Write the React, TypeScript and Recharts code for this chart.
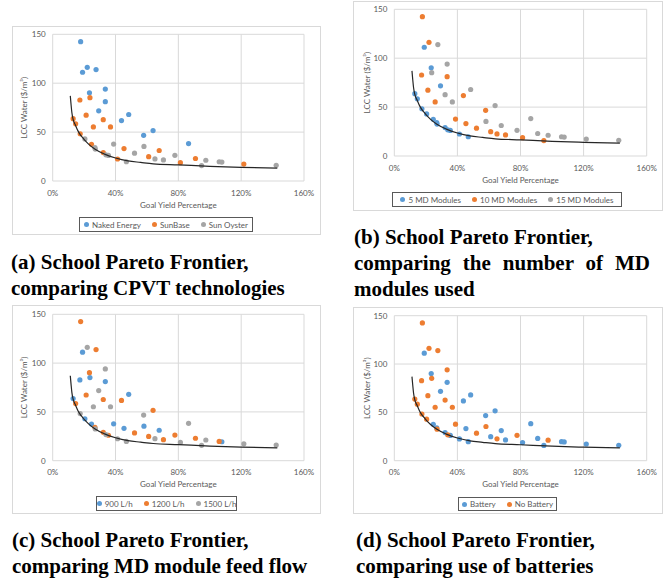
import React from 'react';
import { ScatterChart, Scatter, XAxis, YAxis, CartesianGrid, Label } from 'recharts';

// every design point (x = goal yield %, y = LCC water $/m3)
const goalYield = [
  17.8, 19.0, 22.0, 27.6, 23.4, 33.5, 33.5, 29.3, 43.8, 48.4, 57.9, 63.9, 86.5,
  17.3, 23.7, 13.0, 14.6, 21.3, 32.2, 25.9, 36.8, 17.5, 24.7, 32.2, 41.3, 45.4, 61.1, 67.8, 81.3, 90.9, 121.7,
  20.5, 26.9, 27.1, 38.8, 35.5, 33.9, 46.9, 52.1, 58.1, 65.1, 70.5, 77.8, 94.8, 97.5, 106.0, 107.7, 142.3,
];
const lccWater = [
  142.5, 111.2, 116.2, 113.9, 90.2, 94.0, 81.1, 71.8, 61.8, 68.0, 46.7, 51.6, 38.3,
  82.8, 85.2, 63.7, 58.5, 67.3, 62.7, 55.3, 55.3, 48.3, 37.6, 29.1, 22.5, 33.2, 24.9, 31.2, 18.7, 23.0, 17.3,
  43.0, 34.1, 32.6, 37.8, 26.1, 26.8, 19.7, 28.5, 35.4, 22.6, 21.5, 26.3, 15.8, 21.2, 19.7, 19.4, 16.0,
];
const cpvtTech = [
  'NE', 'NE', 'NE', 'NE', 'NE', 'NE', 'NE', 'NE', 'NE', 'NE', 'NE', 'NE', 'NE',
  'SB', 'SB', 'SB', 'SB', 'SB', 'SB', 'SB', 'SB', 'SB', 'SB', 'SB', 'SB', 'SB', 'SB', 'SB', 'SB', 'SB', 'SB',
  'SO', 'SO', 'SO', 'SO', 'SO', 'SO', 'SO', 'SO', 'SO', 'SO', 'SO', 'SO', 'SO', 'SO', 'SO', 'SO', 'SO',
];
const mdModules = [
  10, 5, 10, 15, 5, 15, 10, 5, 10, 15, 10, 15, 15,
  10, 15, 5, 5, 10, 15, 10, 15, 5, 5, 5, 5, 10, 10, 15, 10, 15, 15,
  5, 5, 5, 10, 5, 5, 5, 10, 15, 10, 10, 15, 10, 15, 15, 15, 15,
];
const feedFlow = [
  1200, 900, 1500, 1200, 1200, 1500, 900, 1500, 1200, 900, 1500, 1200, 1500,
  900, 900, 900, 1200, 1200, 1200, 1500, 1500, 1500, 900, 1200, 1500, 900, 1200, 900, 1500, 1200, 1500,
  900, 1200, 1500, 900, 1200, 1500, 1500, 1200, 900, 1500, 1200, 1200, 1500, 1500, 1200, 900, 1500,
];
const hasBattery = [
  0, 1, 0, 0, 1, 0, 1, 1, 1, 1, 1, 1, 1,
  0, 0, 0, 0, 0, 0, 0, 0, 0, 1, 1, 1, 1, 1, 1, 1, 1, 1,
  0, 1, 0, 0, 1, 0, 1, 0, 0, 0, 1, 0, 1, 0, 1, 1, 1,
];

// pareto frontier curve
const frontierYield = [11.2, 11.7, 12.2, 13.0, 14.5, 16.0, 17.5, 19.0, 20.5, 23.0, 27.0, 33.0, 40.0, 48.0, 56.0, 64.0, 80.0, 100.0, 120.0, 143.0];
const frontierLcc = [87, 78, 70, 63, 57, 51.5, 47.5, 44.5, 41.5, 37.5, 32.5, 27.5, 23.5, 20.5, 19.0, 17.6, 16.5, 15.0, 14.0, 13.2];

const xTicks = [0, 40, 80, 120, 160];
const yTicks = [0, 50, 100, 150];

const cpvtCodes = ['NE', 'SB', 'SO'];
const cpvtNames = ['Naked Energy', 'SunBase', 'Sun Oyster'];
const moduleCounts = [5, 10, 15];
const moduleNames = ['5 MD Modules', '10 MD Modules', '15 MD Modules'];
const flowRates = [900, 1200, 1500];
const flowNames = ['900 L/h', '1200 L/h', '1500 L/h'];
const batteryValues = [1, 0];
const batteryNames = ['Battery', 'No Battery'];

const palette = ['#5B9BD5', '#ED7D31', '#A5A5A5'];

const points = goalYield.map((x, i) => ({ x, y: lccWater[i], i }));
const frontier = frontierYield.map((x, i) => ({ x, y: frontierLcc[i] }));

type Pt = { x: number; y: number };
type Group = { name: string; color: string; data: Pt[] };

function groupBy(attr: (string | number)[], values: (string | number)[], names: string[]): Group[] {
  return values.map((v, k) => ({
    name: names[k],
    color: palette[k],
    data: points.filter(p => attr[p.i] === v),
  }));
}

const tickStyle = { fill: '#595959', fontSize: 8, fontFamily: 'Lato' };
const titleStyle = { fill: '#595959', fontSize: 8, fontFamily: 'Lato' };

type CaptionLine = { text: string; justify?: boolean };

type PanelProps = {
  left: number;
  top: number;
  width: number;
  height: number;
  margin: { top: number; right: number; bottom: number; left: number };
  yLabelX: number;
  groups: Group[];
  legend: { left: number; top: number; width: number; height: number };
  caption: CaptionLine[];
  captionLeft: number;
  captionTop: number;
};

function Panel({ left, top, width, height, margin, yLabelX, groups, legend, caption, captionLeft, captionTop }: PanelProps) {
  return (
    <>
      <div style={{ position: 'absolute', left, top, width, height, background: '#fff' }}>
        <div style={{ position: 'absolute', left: 0, top: 0 }}>
          <ScatterChart width={width} height={height} margin={margin}>
            <CartesianGrid stroke="#D9D9D9" />
            <XAxis
              type="number"
              dataKey="x"
              domain={[0, 160]}
              ticks={xTicks}
              interval={0}
              tickFormatter={(v: number) => `${v}%`}
              tickLine={false}
              axisLine={false}
              tickSize={6}
              tickMargin={3}
              height={30}
              tick={tickStyle}
            >
              <Label value="Goal Yield Percentage" position="insideBottom" offset={3.5} style={titleStyle} />
            </XAxis>
            <YAxis
              type="number"
              dataKey="y"
              domain={[0, 150]}
              ticks={yTicks}
              interval={0}
              width={36}
              tickLine={false}
              axisLine={false}
              tickSize={5}
              tickMargin={2}
              tick={tickStyle}
            >
              <Label
                value="LCC Water ($/m³)"
                angle={-90}
                position="insideLeft"
                offset={yLabelX - margin.left}
                style={{ ...titleStyle, textAnchor: 'middle' }}
              />
            </YAxis>
            {groups.map(g => (
              <Scatter
                key={g.name}
                name={g.name}
                data={g.data}
                fill={g.color}
                isAnimationActive={false}
                shape={(p: any) => <circle cx={p.cx} cy={p.cy} r={2.6} fill={g.color} />}
              />
            ))}
            <Scatter
              data={frontier}
              fill="#262626"
              line={{ stroke: '#262626', strokeWidth: 1.2 }}
              lineType="joint"
              lineJointType="monotoneX"
              shape={() => <g />}
              isAnimationActive={false}
            />
          </ScatterChart>
        </div>
        <div
          style={{
            position: 'absolute', left: 0, top: 0, width, height,
            border: '1px solid #D9D9D9', boxSizing: 'border-box', pointerEvents: 'none',
          }}
        />
        <div
          style={{
            position: 'absolute', left: legend.left, top: legend.top, width: legend.width, height: legend.height,
            border: '1px solid #595959', boxSizing: 'border-box', display: 'flex', alignItems: 'center',
            justifyContent: 'center', gap: 11, fontFamily: 'Lato', fontSize: 8, color: '#595959', whiteSpace: 'nowrap',
          }}
        >
          {groups.map(g => (
            <span key={g.name} style={{ display: 'flex', alignItems: 'center' }}>
              <span style={{ width: 5, height: 5, borderRadius: '50%', background: g.color, marginRight: 3 }} />
              {g.name}
            </span>
          ))}
        </div>
      </div>
      <div
        style={{
          position: 'absolute', left: captionLeft, top: captionTop, width: 296, fontFamily: '"Liberation Serif", serif',
          fontWeight: 'bold', fontSize: 21, lineHeight: '26px', color: '#000', whiteSpace: 'nowrap',
        }}
      >
        {caption.map(line => (
          <div
            key={line.text}
            style={line.justify ? { textAlign: 'justify', textAlignLast: 'justify', whiteSpace: 'normal' } : undefined}
          >
            {line.text}
          </div>
        ))}
      </div>
    </>
  );
}

export default function App() {
  return (
    <div style={{ position: 'absolute', left: 0, top: 0, width: 670, height: 582, background: '#fff', overflow: 'hidden' }}>
      <Panel
        left={12} top={26} width={309} height={209}
        margin={{ top: 8.3, right: 17, bottom: 24, left: 4.7 }}
        yLabelX={12}
        groups={groupBy(cpvtTech, cpvtCodes, cpvtNames)}
        legend={{ left: 67, top: 191, width: 174, height: 15 }}
        caption={[{ text: '(a) School Pareto Frontier,' }, { text: 'comparing CPVT technologies' }]}
        captionLeft={11} captionTop={249}
      />
      <Panel
        left={353} top={1} width={310} height={210}
        margin={{ top: 8.3, right: 16.3, bottom: 25, left: 5.3 }}
        yLabelX={13.7}
        groups={groupBy(mdModules, moduleCounts, moduleNames)}
        legend={{ left: 39, top: 191, width: 230, height: 15 }}
        caption={[
          { text: '(b) School Pareto Frontier,' },
          { text: 'comparing the number of MD', justify: true },
          { text: 'modules used' },
        ]}
        captionLeft={354} captionTop={224}
      />
      <Panel
        left={12} top={305} width={309} height={209}
        margin={{ top: 9.3, right: 17, bottom: 23.3, left: 4.7 }}
        yLabelX={12}
        groups={groupBy(feedFlow, flowRates, flowNames)}
        legend={{ left: 84, top: 191, width: 141, height: 15 }}
        caption={[{ text: '(c) School Pareto Frontier,' }, { text: 'comparing MD module feed flow' }]}
        captionLeft={12} captionTop={527}
      />
      <Panel
        left={353} top={307} width={310} height={207}
        margin={{ top: 8.7, right: 16.3, bottom: 23.3, left: 5.3 }}
        yLabelX={13.7}
        groups={groupBy(hasBattery, batteryValues, batteryNames)}
        legend={{ left: 105, top: 190, width: 99, height: 14 }}
        caption={[{ text: '(d) School Pareto Frontier,' }, { text: 'comparing use of batteries' }]}
        captionLeft={356} captionTop={527}
      />
    </div>
  );
}
